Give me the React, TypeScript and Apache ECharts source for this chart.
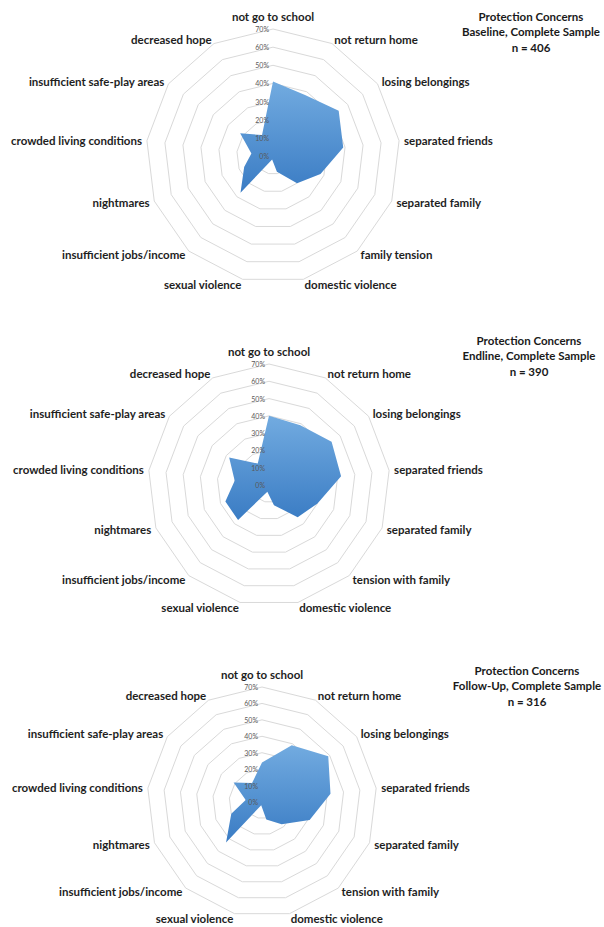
import React, { useEffect, useRef } from "react";
import * as echarts from "echarts";

// ---- Data ----
const labelsBaseline = [
  "not go to school",
  "not return home",
  "losing belongings",
  "separated friends",
  "separated family",
  "family tension",
  "domestic violence",
  "sexual violence",
  "insufficient jobs/income",
  "nightmares",
  "crowded living conditions",
  "insufficient safe-play areas",
  "decreased hope",
];
const labelsLater = [
  "not go to school",
  "not return home",
  "losing belongings",
  "separated friends",
  "separated family",
  "tension with family",
  "domestic violence",
  "sexual violence",
  "insufficient jobs/income",
  "nightmares",
  "crowded living conditions",
  "insufficient safe-play areas",
  "decreased hope",
];
const baselineValues = [41, 38, 44, 39, 28, 20, 9, 2, 27, 17, 12, 22, 13];
const endlineValues = [40, 39, 44, 42, 30, 25, 12, 4, 27, 27, 20, 28, 14];
const followUpValues = [24, 39, 49, 42, 31, 18, 11, 2, 33, 20, 10, 21, 13];
const titleLines = [
  ["Protection Concerns", "Baseline, Complete Sample", "n = 406"],
  ["Protection Concerns", "Endline, Complete Sample", "n = 390"],
  ["Protection Concerns", "Follow-Up, Complete Sample", "n = 316"],
];
const axisMax = 70;
const axisStep = 10;

// ---- Layout ----
const CENTERS: [number, number][] = [
  [273, 156],
  [269, 485],
  [262, 802],
];
const RADII = [127, 121, 115];
const TITLE_POS = [
  [531, 16],
  [529, 340],
  [527, 670],
];
const FONT = "Lato, 'Open Sans', sans-serif";

// ECharts radar runs counter-clockwise; reorder so that the chart reads clockwise
const order = [0, 12, 11, 10, 9, 8, 7, 6, 5, 4, 3, 2, 1];

function makeRadars(i: number, names: string[]) {
  const center = CENTERS[i];
  const radius = RADII[i];
  const grid = {
    center,
    radius,
    startAngle: 90,
    shape: "polygon",
    splitNumber: axisMax / axisStep,
    nameGap: 5,
    axisName: {
      show: true,
      color: "#1e1e1e",
      fontSize: 11.5,
      fontFamily: FONT,
      fontWeight: "bold",
    },
    axisLine: { show: false },
    axisTick: { show: false },
    axisLabel: { show: false },
    splitArea: { show: false },
    splitLine: { show: true, lineStyle: { color: "#d9d9d9", width: 1 } },
    indicator: order.map((k) => ({
      name: names[k],
      min: 0,
      max: axisMax,
      ...(k === 0 ? { nameGap: 7 } : {}),
    })),
    z: 0,
  };
  const labels = {
    center,
    radius,
    startAngle: 90,
    shape: "polygon",
    splitNumber: axisMax / axisStep,
    axisName: { show: false },
    axisLine: { show: false },
    axisTick: { show: false },
    axisLabel: { show: false },
    splitArea: { show: false },
    splitLine: { show: false },
    indicator: order.map((k) => ({
      name: "",
      min: 0,
      max: axisMax,
      ...(k === 0
        ? {
            axisLabel: {
              show: true,
              formatter: "{value}%",
              fontSize: 7,
              color: "#595959",
              fontFamily: FONT,
              margin: 4,
            },
          }
        : {}),
    })),
    zlevel: 1,
    z: 10,
  };
  return [grid, labels];
}

export default function App() {
  const ref = useRef<HTMLDivElement>(null);
  useEffect(() => {
    if (!ref.current) return;
    const chart = echarts.init(ref.current, undefined, { renderer: "svg" });
    const sets = [
      { names: labelsBaseline, values: baselineValues },
      { names: labelsLater, values: endlineValues },
      { names: labelsLater, values: followUpValues },
    ];
    const radars: any[] = [];
    sets.forEach((s, i) => radars.push(...makeRadars(i, s.names)));
    const fill = new echarts.graphic.LinearGradient(0, 0, 0, 1, [
      { offset: 0, color: "#72abe0" },
      { offset: 1, color: "#3a7cc4" },
    ]);
    const series = sets.map((s, i) => ({
      type: "radar",
      radarIndex: i * 2,
      symbol: "none",
      z: 2,
      lineStyle: { width: 0, opacity: 0 },
      areaStyle: { color: fill, opacity: 1 },
      data: [{ value: order.map((k) => s.values[k]), name: titleLines[i][1] }],
    }));
    const graphics: any[] = [];
    titleLines.forEach((lines, i) => {
      lines.forEach((t, j) => {
        graphics.push({
          type: "text",
          x: TITLE_POS[i][0],
          y: TITLE_POS[i][1] + j * 15.5,
          style: {
            text: t,
            align: "center",
            verticalAlign: "middle",
            fontSize: 11.5,
            fontWeight: "bold",
            fontFamily: FONT,
            fill: "#1a1a1a",
          },
        });
      });
    });
    chart.setOption({
      animation: false,
      backgroundColor: "#ffffff",
      radar: radars,
      series,
      graphic: graphics,
    });
    return () => chart.dispose();
  }, []);
  return (
    <div
      ref={ref}
      style={{ position: "absolute", left: 0, top: 0, width: 604, height: 927 }}
    />
  );
}
